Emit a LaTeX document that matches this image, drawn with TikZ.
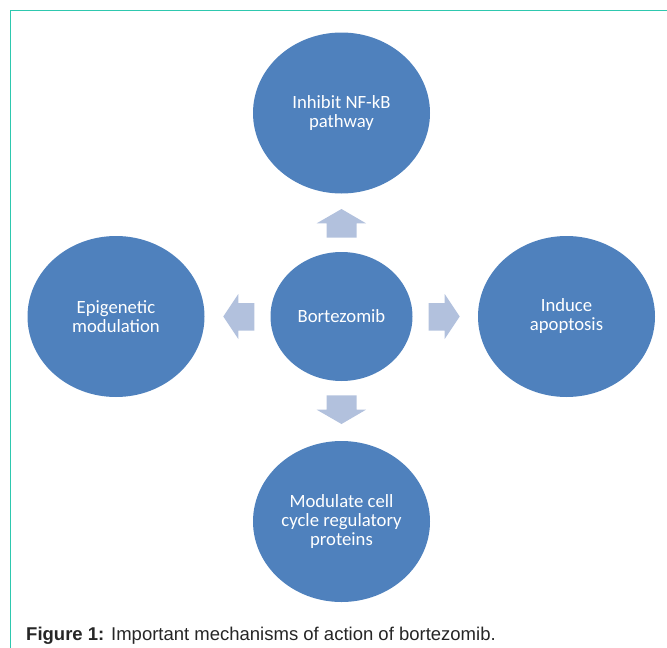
\documentclass[tikz,border=0pt]{standalone}
\usepackage{fontspec}
\setmainfont{Liberation Sans}
\newfontfamily\calib{Carlito}
\usetikzlibrary{shapes.geometric}
\definecolor{ovalblue}{HTML}{4F81BD}
\definecolor{arrowblue}{HTML}{B2C1DD}
\definecolor{frameteal}{HTML}{2EC8AF}
\tikzset{
  oval/.style={ellipse, fill=ovalblue, minimum width=177pt, minimum height=161pt, inner sep=0pt,
    text=white, align=center, font=\calib\fontsize{18.7}{19}\selectfont},
  arrowfill/.style={fill=arrowblue, draw=none},
  frame/.style={draw=frameteal, line width=1.2pt}
}
\begin{document}
\begin{tikzpicture}[x=1pt,y=-1pt]
\useasboundingbox (0,0) rectangle (667,648);
% frame
\coordinate (fr1) at (667,10.3);
\coordinate (fr2) at (10.5,10.3);
\coordinate (fr3) at (10.5,648);
\draw[frame] (fr1) -- (fr2) -- (fr3);
% ovals
\node[oval] (top) at (341.5,113) {Inhibit NF-kB\\pathway};
\node[oval] (left) at (116,316.5) {Epigenetic\\modulation};
\node[oval] (right) at (566.5,316.5) {Induce\\apoptosis};
\node[oval] (bottom) at (341.5,521.5) {Modulate cell\\cycle regulatory\\proteins};
\node[oval, minimum width=142pt, minimum height=129pt] (center) at (341.5,316.5) {Bortezomib};
% block arrows
\fill[arrowfill] (341.5,209) -- (366,223.3) -- (356.7,223.3) -- (356.7,237.7) -- (326.7,237.7) -- (326.7,223.3) -- (316.7,223.3) -- cycle;
\fill[arrowfill] (341.5,424) -- (366,409.7) -- (356.7,409.7) -- (356.7,395.3) -- (326.7,395.3) -- (326.7,409.7) -- (316.7,409.7) -- cycle;
\fill[arrowfill] (223.3,316.5) -- (238.3,294) -- (238.3,303) -- (254.3,303) -- (254.3,330.7) -- (238.3,330.7) -- (238.3,339) -- cycle;
\fill[arrowfill] (459.7,316.5) -- (444.7,294) -- (444.7,303) -- (428.7,303) -- (428.7,330.7) -- (444.7,330.7) -- (444.7,339) -- cycle;
% caption
\node[anchor=base west, inner sep=0pt, font=\fontsize{18.5}{20}\selectfont, text=black!85] (cap) at (26,640)
  {\textbf{Figure 1:} Important mechanisms of action of bortezomib.};
\end{tikzpicture}
\end{document}
